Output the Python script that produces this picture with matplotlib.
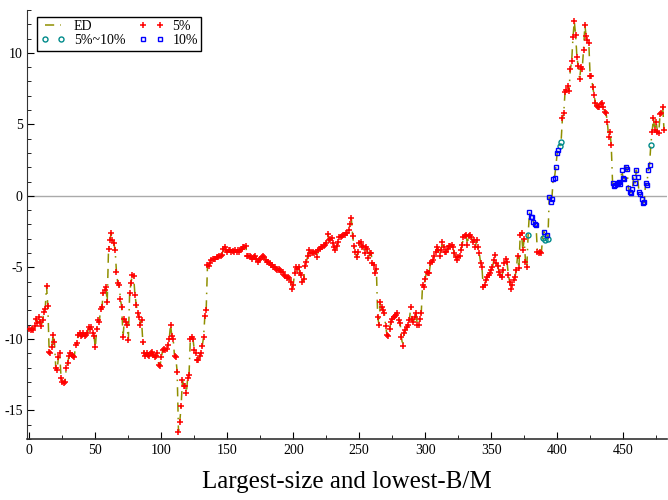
import numpy
from matplotlib import pyplot
from matplotlib.ticker import MultipleLocator


# excess returns, one value per portfolio
ed_values = [
  -9.3, -9.4, -9.3, -9.4, -9.1, -8.6, -8.9, -8.5, -8.8, -9.1,
  -8.7, -8.1, -7.9, -6.3, -7.7, -10.9, -11.0, -10.6, -9.7, -10.2,
  -12.0, -12.2, -11.3, -11.0, -12.7, -13.0, -13.1, -13.0, -12.0, -11.7,
  -11.2, -11.0, -11.1, -11.2, -11.3, -10.4, -10.3, -9.7, -9.6, -9.8,
  -9.7, -9.6, -9.8, -9.7, -9.6, -9.2, -9.3, -9.2, -9.6, -9.8,
  -10.6, -9.3, -8.7, -8.8, -7.9, -7.8, -6.8, -6.6, -6.4, -7.4,
  -3.7, -3.1, -2.6, -3.1, -3.3, -3.8, -5.3, -6.1, -6.2, -7.2,
  -7.8, -9.9, -8.6, -8.8, -9.0, -10.1, -6.8, -6.1, -5.5, -5.6,
  -6.9, -7.6, -8.2, -8.5, -9.0, -8.7, -10.2, -11.0, -11.2, -11.0,
  -11.1, -11.2, -11.0, -10.9, -11.1, -11.3, -11.2, -11.0, -11.8, -11.9,
  -11.3, -10.8, -10.7, -10.8, -10.7, -10.4, -10.0, -9.0, -9.8, -10.0,
  -11.2, -11.3, -12.3, -16.5, -15.8, -14.7, -12.9, -13.3, -13.3, -13.8,
  -12.7, -12.5, -10.0, -9.9, -10.0, -10.8, -11.0, -11.5, -11.5, -11.2,
  -11.0, -10.5, -9.9, -8.4, -8.0, -4.8, -4.9, -4.7, -4.5, -4.4,
  -4.4, -4.4, -4.3, -4.3, -4.2, -4.2, -4.1, -3.7, -3.6, -3.8,
  -3.9, -3.8, -3.8, -3.9, -3.85, -3.9, -3.8, -3.9, -3.8, -3.9,
  -3.8, -3.7, -3.6, -3.6, -3.5, -4.2, -4.2, -4.2, -4.3, -4.4,
  -4.3, -4.2, -4.4, -4.6, -4.5, -4.4, -4.3, -4.2, -4.3, -4.5,
  -4.6, -4.6, -4.7, -4.8, -4.8, -5.0, -5.0, -5.1, -5.2, -5.1,
  -5.2, -5.3, -5.3, -5.5, -5.6, -5.75, -5.7, -5.75, -6.0, -6.5,
  -6.2, -5.4, -5.0, -5.1, -5.0, -5.4, -5.5, -6.0, -5.8, -4.9,
  -4.6, -4.2, -3.8, -4.0, -4.0, -3.9, -4.0, -3.9, -4.3, -3.8,
  -3.7, -3.6, -3.6, -3.5, -3.4, -3.3, -2.65, -3.1, -3.0, -2.95,
  -3.3, -3.6, -3.8, -3.5, -3.2, -2.9, -2.9, -2.8, -2.7, -2.7,
  -2.6, -2.6, -2.4, -2.0, -1.55, -2.8, -3.5, -3.9, -4.3, -3.9,
  -3.3, -3.2, -3.6, -3.5, -4.0, -3.6, -3.7, -4.35, -4.0, -4.0,
  -4.7, -4.8, -5.4, -5.1, -8.5, -9.0, -7.4, -7.8, -8.0, -8.2,
  -9.1, -9.7, -9.8, -9.3, -8.8, -8.6, -8.5, -8.4, -8.3, -8.2,
  -8.7, -8.9, -9.9, -10.5, -9.6, -9.4, -9.2, -9.0, -8.7, -7.8,
  -8.6, -8.8, -8.5, -8.2, -9.0, -9.0, -8.6, -8.2, -6.2, -6.4,
  -5.8, -5.3, -5.4, -5.4, -4.7, -4.6, -4.5, -4.2, -3.9, -3.6,
  -3.8, -4.2, -3.8, -3.2, -3.6, -3.9, -3.9, -3.7, -3.5, -3.5,
  -3.4, -3.6, -4.0, -4.3, -4.5, -4.3, -4.2, -3.8, -3.4, -2.9,
  -2.8, -2.7, -3.4, -2.8, -2.7, -2.9, -3.2, -3.1, -3.6, -3.1,
  -3.6, -4.0, -4.7, -5.0, -6.4, -6.2, -5.9, -5.7, -5.5, -5.4,
  -5.2, -5.0, -4.5, -4.1, -4.7, -4.9, -5.3, -5.5, -5.7, -5.2,
  -4.7, -4.4, -4.6, -5.5, -6.0, -6.5, -6.2, -5.9, -5.7, -5.2,
  -4.2, -5.05, -2.75, -2.6, -3.8, -3.0, -4.6, -5.0, -2.75, -1.15,
  -1.45, -1.5, -1.8, -2.0, -2.05, -3.9, -4.0, -3.9, -4.0, -2.95,
  -2.5, -3.1, -2.7, -3.0, -0.1, -0.4, -0.2, 1.2, 1.27, 2.05,
  2.97, 3.2, 3.5, 3.8, 5.45, 5.8, 7.3, 7.4, 7.7, 7.35,
  8.85, 9.4, 11.1, 12.2, 11.25, 9.7, 9.05, 8.15, 9.0, 8.9,
  10.2, 11.95, 11.15, 10.9, 10.7, 8.35, 8.4, 7.6, 7.05, 6.5,
  6.3, 6.25, 6.2, 6.4, 6.5, 6.25, 5.9, 5.8, 5.2, 4.15,
  4.5, 3.55, 0.9, 0.7, 0.75, 0.8, 0.9, 1.0, 0.8, 1.8,
  1.25, 1.2, 2.05, 1.9, 0.55, 0.3, 0.22, 0.45, 1.33, 0.9,
  1.8, 1.3, 0.3, 0.1, -0.2, -0.5, -0.45, 0.88, 0.77, 1.8,
  2.15, 3.57, 4.5, 5.45, 4.6, 5.2, 4.5, 4.4, 5.7, 5.8,
  6.25, 4.6,
]

# significance groups (all other points are significant at 5%)
teal_idx = [378, 389, 391, 393, 402, 403, 471]
blue_idx = ([379, 380, 381, 382, 383, 384, 390, 392]
            + list(range(394, 402)) + list(range(442, 471)))

x_ticks = [0, 50, 100, 150, 200, 250, 300, 350, 400, 450]
y_ticks = [-15, -10, -5, 0, 5, 10]
x_label = 'Largest-size and lowest-B/M'


def plot_ed(values, teal, blue):
  """Plots the ED series with markers by significance level."""
  pyplot.rcParams['font.family'] = ['Liberation Serif', 'DejaVu Serif']
  pyplot.rcParams['axes.unicode_minus'] = False
  y = numpy.array(values)
  x = numpy.arange(len(y))
  teal = numpy.array(teal)
  blue = numpy.array(blue)
  red = numpy.setdiff1d(x, numpy.concatenate([teal, blue]))

  fig = pyplot.figure(figsize=(6.68, 5.0), dpi=100)
  ax = fig.add_axes([0.041, 0.122, 0.957, 0.858])
  ax.axhline(0.0, color='#aaaaaa', linewidth=1.0, zorder=1)
  ed, = ax.plot(x, y, color='#8f8f00', linewidth=1.1,
                dashes=(6, 4, 6, 4, 1, 4), zorder=2, label='ED')
  p5, = ax.plot(x[red], y[red], linestyle='none', marker='+',
                markersize=4.5, markeredgewidth=1.1, color='#ff0000',
                zorder=3, label='5%')
  p510, = ax.plot(x[teal], y[teal], linestyle='none', marker='o',
                  markersize=3.6, markeredgewidth=1.0, color='#008b8b',
                  markerfacecolor='none', zorder=3, label='5%~10%')
  p10, = ax.plot(x[blue], y[blue], linestyle='none', marker='s',
                 markersize=3.4, markeredgewidth=1.0, color='#0000ff',
                 markerfacecolor='none', zorder=3, label='10%')

  ax.set_xlim(-1.5, 483)
  ax.set_ylim(-17, 13)
  ax.set_xticks(x_ticks)
  ax.set_yticks(y_ticks)
  ax.xaxis.set_minor_locator(MultipleLocator(25))
  ax.yaxis.set_minor_locator(MultipleLocator(1))
  ax.tick_params(which='both', direction='in', labelsize=10,
                 top=False, right=False)
  ax.tick_params(which='major', length=5)
  ax.tick_params(which='minor', length=3)
  ax.spines['top'].set_visible(False)
  ax.spines['right'].set_visible(False)
  ax.spines['left'].set_color('#333333')
  ax.spines['bottom'].set_color('#333333')
  ax.spines['bottom'].set_linewidth(1.2)
  ax.set_xlabel(x_label, fontsize=18, labelpad=10)

  leg = ax.legend(handles=[ed, p510, p5, p10], ncol=2, loc='upper left',
                  bbox_to_anchor=(0.015, 0.984), borderaxespad=0,
                  numpoints=2, fontsize=10, fancybox=False,
                  edgecolor='black', framealpha=1, handlelength=1.8,
                  columnspacing=1.0, borderpad=0.25, labelspacing=0.05,
                  handletextpad=0.6)
  leg.get_frame().set_linewidth(1.0)
  fig.savefig('out.png', dpi=100)


if __name__ == '__main__':
  plot_ed(ed_values, teal_idx, blue_idx)
